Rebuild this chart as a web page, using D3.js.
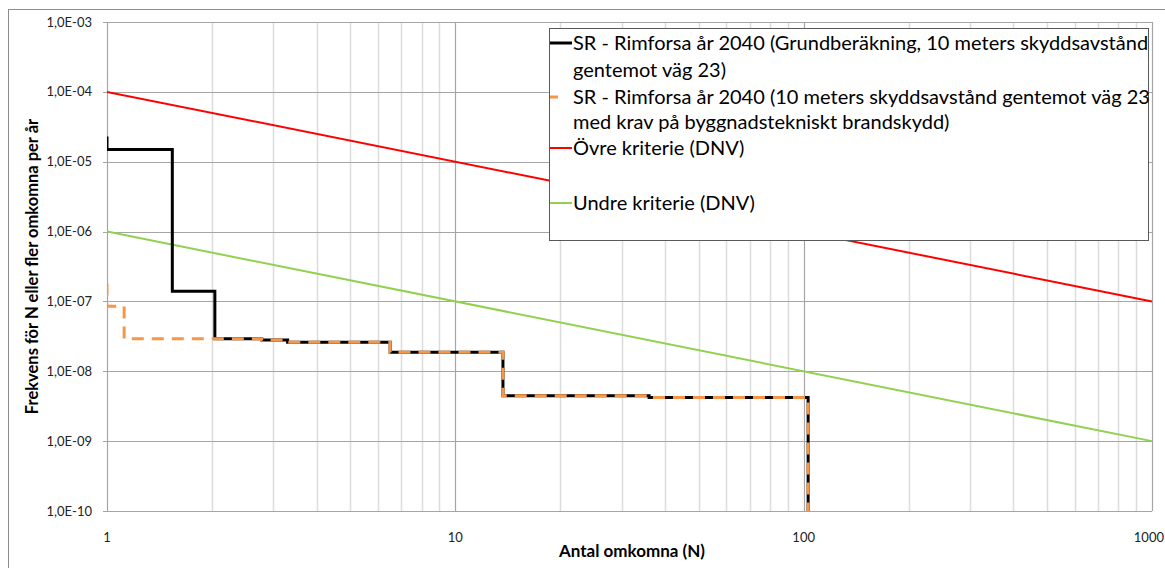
<!DOCTYPE html>
<html>
<head>
<meta charset="utf-8">
<script src="https://cdn.jsdelivr.net/npm/d3@7"></script>
<style>
  body { margin: 0; background: #fff; }
  svg { display: block; font-family: Lato, 'Open Sans', sans-serif; }
</style>
</head>
<body>
<script>
// Data
var blackN = [1, 1, 1.54, 2.04, 2.78, 3.3, 6.5, 13.7, 36, 103];
var blackF = [2.3e-5, 1.5e-5, 1.4e-7, 2.92e-8, 2.8e-8, 2.6e-8, 1.88e-8, 4.45e-9, 4.2e-9, 1e-10];

var orangeN = [1, 1, 1.12, 2.78, 3.3, 6.5, 13.7, 36, 103];
var orangeF = [1.8e-7, 8.5e-8, 2.92e-8, 2.8e-8, 2.6e-8, 1.88e-8, 4.45e-9, 4.2e-9, 1e-10];

var critN = [1, 1000];
var upperF = [1e-4, 1e-7];
var lowerF = [1e-6, 1e-9];

var yTicks = [1e-3, 1e-4, 1e-5, 1e-6, 1e-7, 1e-8, 1e-9, 1e-10];
var yTickLabels = ['1,0E-03', '1,0E-04', '1,0E-05', '1,0E-06', '1,0E-07', '1,0E-08', '1,0E-09', '1,0E-10'];
var xTicks = [1, 10, 100, 1000];
var xTickLabels = ['1', '10', '100', '1000'];

var legendLines = [
  'SR - Rimforsa år 2040 (Grundberäkning, 10 meters skyddsavstånd',
  'gentemot väg 23)',
  'SR - Rimforsa år 2040 (10 meters skyddsavstånd gentemot väg 23',
  'med krav på byggnadstekniskt brandskydd)',
  'Övre kriterie (DNV)',
  'Undre kriterie (DNV)'
];

var svg = d3.select('body').append('svg').attr('width', 1165).attr('height', 568);

var pLeft = 107, pRight = 1152, pTop = 22, pBottom = 511;

var x = d3.scaleLog().domain([1, 1000]).range([pLeft, pRight]);
var y = d3.scaleLog().domain([1e-10, 1e-3]).range([pBottom, pTop]);

// outer chart border
svg.append('rect')
  .attr('x', 8.5).attr('y', 9.5).attr('width', 1200).attr('height', 600)
  .attr('fill', 'none').attr('stroke', '#8c8c8c');

// minor vertical gridlines
var minor = [];
[1, 10, 100].forEach(function (d) {
  for (var k = 2; k <= 9; k++) minor.push(d * k);
});
svg.append('g').selectAll('line').data(minor).enter().append('line')
  .attr('x1', function (d) { return Math.round(x(d)) + 0.5; })
  .attr('x2', function (d) { return Math.round(x(d)) + 0.5; })
  .attr('y1', pTop).attr('y2', pBottom)
  .attr('stroke', '#dcdcdc').attr('stroke-width', 1.5);

// major gridlines
svg.append('g').selectAll('line').data(xTicks).enter().append('line')
  .attr('x1', function (d) { return Math.round(x(d)) + 0.5; })
  .attr('x2', function (d) { return Math.round(x(d)) + 0.5; })
  .attr('y1', pTop).attr('y2', pBottom)
  .attr('stroke', '#a6a6a6').attr('stroke-width', 1.2);

svg.append('g').selectAll('line').data(yTicks).enter().append('line')
  .attr('x1', pLeft - 4).attr('x2', pRight)
  .attr('y1', function (d) { return Math.round(y(d)) + 0.5; })
  .attr('y2', function (d) { return Math.round(y(d)) + 0.5; })
  .attr('stroke', '#a6a6a6').attr('stroke-width', 1.2);

// tick labels
svg.append('g').selectAll('text').data(yTicks).enter().append('text')
  .attr('x', 92).attr('y', function (d) { return y(d) + 4.5; })
  .attr('text-anchor', 'end').attr('font-size', '13px').attr('fill', '#222')
  .text(function (d, i) { return yTickLabels[i]; });

// last label sits at the right edge, as in the reference
svg.append('g').selectAll('text').data(xTicks).enter().append('text')
  .attr('x', function (d, i) { return i === xTicks.length - 1 ? 1164 : x(d); })
  .attr('y', 542)
  .attr('text-anchor', function (d, i) { return i === xTicks.length - 1 ? 'end' : 'middle'; })
  .attr('font-size', '13px').attr('fill', '#222')
  .text(function (d, i) { return xTickLabels[i]; });

// axis titles
svg.append('text')
  .attr('x', 632).attr('y', 557)
  .attr('text-anchor', 'middle').attr('font-size', '17px').attr('font-weight', 'bold')
  .text('Antal omkomna (N)');

svg.append('text')
  .attr('transform', 'translate(38,' + (pTop + pBottom) / 2 + ') rotate(-90)')
  .attr('text-anchor', 'middle').attr('font-size', '16.5px').attr('font-weight', 'bold')
  .text('Frekvens för N eller fler omkomna per år');

// series
svg.append('clipPath').attr('id', 'plot')
  .append('rect').attr('x', pLeft).attr('y', pTop - 2).attr('width', pRight - pLeft + 2).attr('height', pBottom - pTop + 4);

var g = svg.append('g').attr('clip-path', 'url(#plot)');

var line = d3.line()
  .x(function (d) { return x(d[0]); })
  .y(function (d) { return y(d[1]); });

var stepLine = d3.line()
  .x(function (d) { return x(d[0]); })
  .y(function (d) { return y(d[1]); })
  .curve(d3.curveStepAfter);

g.append('path')
  .datum(critN.map(function (n, i) { return [n, upperF[i]]; }))
  .attr('d', line).attr('fill', 'none').attr('stroke', '#ff0000').attr('stroke-width', 2);

g.append('path')
  .datum(critN.map(function (n, i) { return [n, lowerF[i]]; }))
  .attr('d', line).attr('fill', 'none').attr('stroke', '#92d050').attr('stroke-width', 2);

g.append('path')
  .datum(blackN.map(function (n, i) { return [n, blackF[i]]; }))
  .attr('d', stepLine).attr('fill', 'none').attr('stroke', '#000').attr('stroke-width', 3);

g.append('path')
  .datum(orangeN.map(function (n, i) { return [n, orangeF[i]]; }))
  .attr('d', stepLine).attr('fill', 'none').attr('stroke', '#f79646').attr('stroke-width', 3)
  .attr('stroke-dasharray', '12,8');

// legend
var lg = svg.append('g');
lg.append('rect')
  .attr('x', 549.5).attr('y', 28.5).attr('width', 599).attr('height', 212)
  .attr('fill', '#fff').attr('stroke', '#595959');

var lineY = [43, 70, 97, 122, 148, 203];
lg.selectAll('text').data(legendLines).enter().append('text')
  .attr('x', 573).attr('y', function (d, i) { return lineY[i] + 7; })
  .attr('font-size', '20px').attr('fill', '#000')
  .text(function (d) { return d; });

var samples = [
  { y: 43, x2: 572, color: '#000', w: 3 },
  { y: 97, x2: 558, color: '#f79646', w: 3 },
  { y: 148, x2: 572, color: '#ff0000', w: 2 },
  { y: 203, x2: 572, color: '#92d050', w: 2 }
];
lg.selectAll('line').data(samples).enter().append('line')
  .attr('x1', 550).attr('x2', function (d) { return d.x2; })
  .attr('y1', function (d) { return d.y; }).attr('y2', function (d) { return d.y; })
  .attr('stroke', function (d) { return d.color; })
  .attr('stroke-width', function (d) { return d.w; });
</script>
</body>
</html>
